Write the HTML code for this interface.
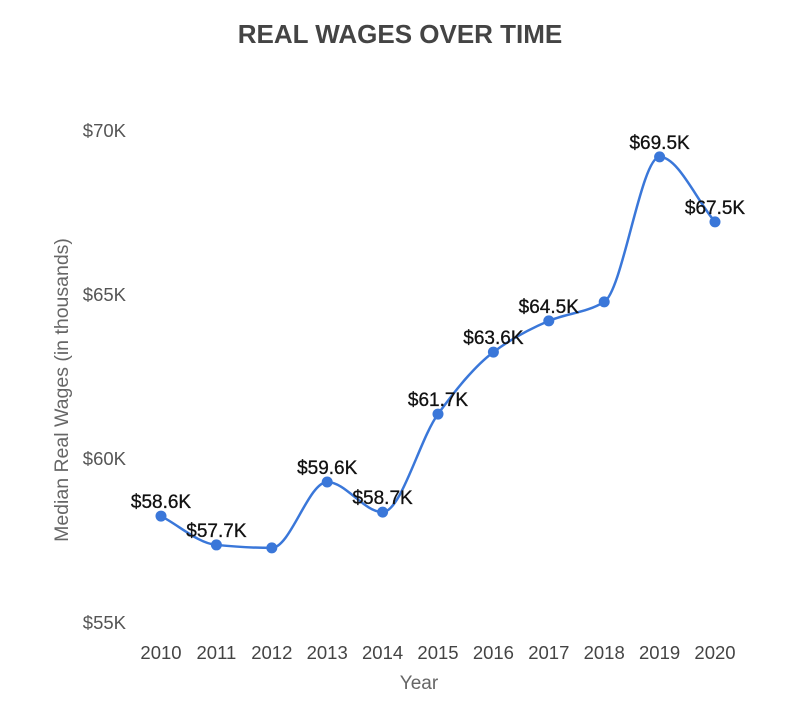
<!DOCTYPE html>
<html><head><meta charset="utf-8">
<style>
html,body{margin:0;padding:0;background:#fff;}
body{width:799px;height:704px;overflow:hidden;font-family:"Liberation Sans",sans-serif;}
</style></head>
<body>
<svg id="chart" width="799" height="704" viewBox="0 0 799 704" xmlns="http://www.w3.org/2000/svg">
<text x="400" y="43" text-anchor="middle" font-size="26" font-weight="bold" fill="#444">REAL WAGES OVER TIME</text>
<text transform="translate(68,390) rotate(-90)" text-anchor="middle" font-size="19.5" fill="#666">Median Real Wages (in thousands)</text>
<text x="419" y="689" text-anchor="middle" font-size="19" fill="#666">Year</text>
<g id="yticks"></g>
<g id="xticks"></g>
<g id="series"></g>
</svg>
<script>
const years = ["2010","2011","2012","2013","2014","2015","2016","2017","2018","2019","2020"];
const wages = [58.26,57.38,57.29,59.30,58.38,61.37,63.26,64.21,64.79,69.21,67.23];
const pointLabels = ["$58.6K","$57.7K","","$59.6K","$58.7K","$61.7K","$63.6K","$64.5K","","$69.5K","$67.5K"];
const yTickValues = [55,60,65,70];
const yTickLabels = ["$55K","$60K","$65K","$70K"];

const NS="http://www.w3.org/2000/svg";
const x = i => 161 + i*(715-161)/(years.length-1);
const y = v => 459 - (v-60)*32.8;
function mk(tag, attrs, parent){const e=document.createElementNS(NS,tag);for(const k in attrs)e.setAttribute(k,attrs[k]);parent.appendChild(e);return e;}

const yg=document.getElementById('yticks');
yTickValues.forEach((v,i)=>{
  const t=mk('text',{x:126,y:y(v)+6,'text-anchor':'end','font-size':18.5,fill:'#555'},yg);
  
  
  t.textContent=yTickLabels[i];
});
const xg=document.getElementById('xticks');
years.forEach((yr,i)=>{
  const t=mk('text',{x:x(i),y:659,'text-anchor':'middle','font-size':18.5,fill:'#444'},xg);
  
  
  t.textContent=yr;
});

const sg=document.getElementById('series');
const pts=wages.map((v,i)=>[x(i),y(v)]);
// monotone cubic (Fritsch-Carlson)
const n=pts.length, dx=[], sl=[], m=[];
for(let i=0;i<n-1;i++){dx[i]=pts[i+1][0]-pts[i][0];sl[i]=(pts[i+1][1]-pts[i][1])/dx[i];}
m[0]=sl[0];m[n-1]=sl[n-2];
for(let i=1;i<n-1;i++){
  if(sl[i-1]*sl[i]<=0)m[i]=0;
  else{const w1=2*dx[i]+dx[i-1],w2=dx[i]+2*dx[i-1];m[i]=(w1+w2)/(w1/sl[i-1]+w2/sl[i]);}
}
let d=`M${pts[0][0]},${pts[0][1]}`;
for(let i=0;i<n-1;i++){
  const h=dx[i]/3;
  d+=` C${pts[i][0]+h},${pts[i][1]+m[i]*h} ${pts[i+1][0]-h},${pts[i+1][1]-m[i+1]*h} ${pts[i+1][0]},${pts[i+1][1]}`;
}
const line=mk('path',{d:d,fill:'none',stroke:'#3a77d9','stroke-width':2.5},sg);


pts.forEach((p,i)=>{
  const c=mk('circle',{cx:p[0],cy:p[1],r:5.5,fill:'#3a77d9'},sg);
  
  
  if(pointLabels[i]){
    const t=mk('text',{x:p[0],y:p[1]-8,'text-anchor':'middle','font-size':19,fill:'#111',stroke:'#111','stroke-width':0.3},sg);
    
    
    t.textContent=pointLabels[i];
  }
});
</script>
</body></html>
